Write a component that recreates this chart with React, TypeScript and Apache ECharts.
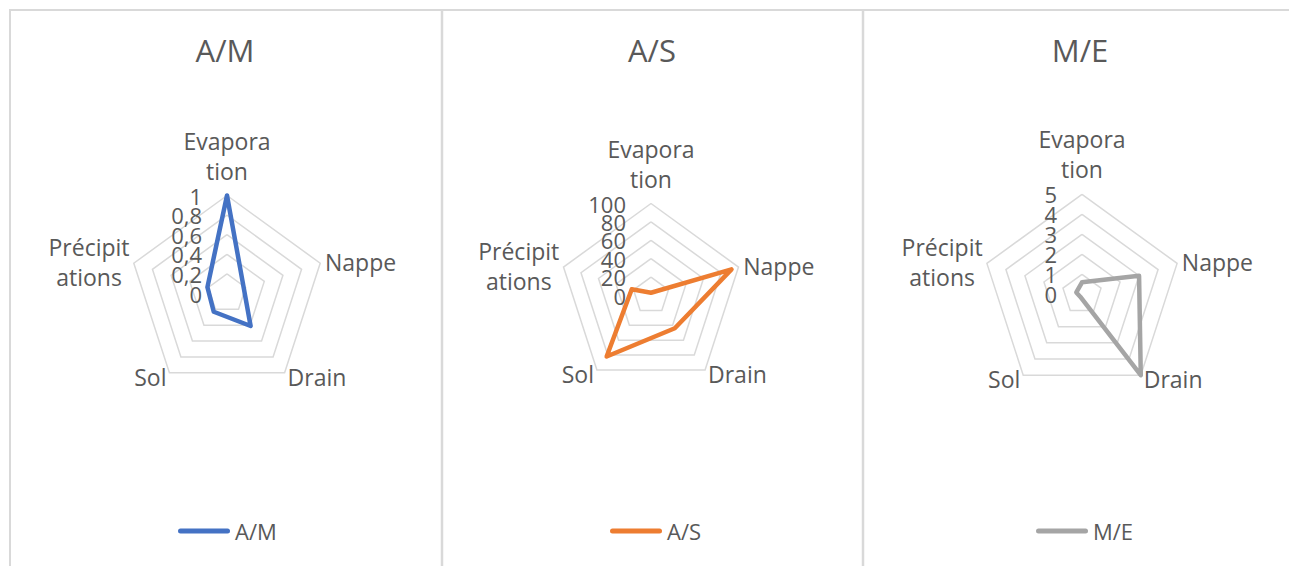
import React, { useEffect, useRef } from "react";
import * as echarts from "echarts";

// ---- data ----
const categories = ["Evaporation", "Nappe", "Drain", "Sol", "Précipitations"];
const wrappedLabels = ["Evapora\ntion", "Nappe", "Drain", "Sol", "Précipit\nations"];
const seriesNames = ["A/M", "A/S", "M/E"];
const valuesAM = [1, 0.18, 0.41, 0.23, 0.21];
const valuesAS = [3, 92, 44, 82, 22];
const valuesME = [0.6, 3, 5, 0.15, 0.3];
const axisMax = [1, 100, 5];
const ticksAM = ["0", "0,2", "0,4", "0,6", "0,8", "1"];
const ticksAS = ["0", "20", "40", "60", "80", "100"];
const ticksME = ["0", "1", "2", "3", "4", "5"];
const seriesValues = [valuesAM, valuesAS, valuesME];
const tickLabels = [ticksAM, ticksAS, ticksME];
const colors = ["#4472C4", "#ED7D31", "#A5A5A5"];

// ---- layout ----
const FONT = "'Open Sans', 'Noto Sans', sans-serif";
const TEXT = "#595959";
const SPLIT = 5;
const panels = [
  { cx: 227, cy: 293.5, r: 98, titleX: 220, legendLeft: 173 },
  { cx: 651, cy: 295.5, r: 92, titleX: 647, legendLeft: 605 },
  { cx: 1082, cy: 294.3, r: 100, titleX: 1075, legendLeft: 1031 },
];
// ECharts places indicators counter-clockwise; Excel goes clockwise.
const order = categories.map((_, i) => (i === 0 ? 0 : categories.length - i));

const pill = "path://M2.5,0 L49.5,0 A2.5,2.5 0 0 1 49.5,5 L2.5,5 A2.5,2.5 0 0 1 2.5,0 Z";

export default function App() {
  const ref = useRef<HTMLDivElement>(null);
  useEffect(() => {
    if (!ref.current) return;
    const chart = echarts.init(ref.current, null, { renderer: "svg" });

    // value-axis labels of the top (Evaporation) axis, left of the axis like Excel
    const tickTexts: any[] = [];
    panels.forEach((p, i) => {
      tickLabels[i].forEach((t, k) => {
        tickTexts.push({
          type: "text",
          x: p.cx - 25,
          y: p.cy - (p.r * k) / SPLIT,
          z: 10,
          silent: true,
          style: {
            text: t,
            align: "right",
            verticalAlign: "middle",
            fontSize: 22,
            fontFamily: FONT,
            fill: TEXT,
          },
        });
      });
    });

    const option: any = {
      animation: false,
      backgroundColor: "#ffffff",
      title: panels.map((p, i) => ({
        text: seriesNames[i],
        left: p.titleX,
        top: 29,
        textAlign: "center",
        textStyle: { fontSize: 31, fontWeight: "normal", color: TEXT, fontFamily: FONT },
      })),
      legend: panels.map((p, i) => ({
        data: [seriesNames[i]],
        left: p.legendLeft,
        top: 515,
        itemWidth: 52,
        itemHeight: 5,
        icon: pill,
        itemStyle: { borderWidth: 0 },
        textStyle: { color: TEXT, fontSize: 22, fontFamily: FONT },
        selectedMode: false,
      })),
      radar: panels.map((p, i) => ({
        center: [p.cx, p.cy],
        radius: p.r,
        startAngle: 90,
        splitNumber: SPLIT,
        shape: "polygon",
        indicator: order.map((k, j) => ({
          name: categories[k],
          min: 0,
          max: axisMax[i],
          nameGap: j === 0 ? 10 : 5,
        })),
        axisNameGap: 7,
        axisName: {
          color: TEXT,
          fontSize: 23,
          fontFamily: FONT,
          lineHeight: 30,
          formatter: (name: string) => {
            const lbl = wrappedLabels[categories.indexOf(name)];
            if (lbl.indexOf("\n") < 0) return lbl;
            return lbl
              .split("\n")
              .map((l) => `{c|${l}}`)
              .join("\n");
          },
          rich: {
            c: {
              width: 80,
              align: "center",
              fontSize: 23,
              lineHeight: 30,
              color: TEXT,
              fontFamily: FONT,
            },
          },
        },
        splitLine: { lineStyle: { color: "#D9D9D9", width: 1.5 } },
        splitArea: { show: false },
        axisLine: { show: false },
        axisTick: { show: false },
        axisLabel: { show: false },
      })),
      series: seriesNames.map((name, i) => ({
        type: "radar",
        name,
        radarIndex: i,
        symbol: "none",
        color: colors[i],
        lineStyle: { width: 4.5, color: colors[i], cap: "round", join: "round" },
        data: [{ name, value: order.map((k) => seriesValues[i][k]) }],
      })),
      graphic: [
        { type: "line", shape: { x1: 9, y1: 10, x2: 1289, y2: 10 }, style: { stroke: "#D9D9D9", lineWidth: 2 }, silent: true },
        { type: "line", shape: { x1: 10, y1: 9, x2: 10, y2: 566 }, style: { stroke: "#D9D9D9", lineWidth: 2 }, silent: true },
        { type: "line", shape: { x1: 442, y1: 9, x2: 442, y2: 566 }, style: { stroke: "#D9D9D9", lineWidth: 2.5 }, silent: true },
        { type: "line", shape: { x1: 863, y1: 9, x2: 863, y2: 566 }, style: { stroke: "#D9D9D9", lineWidth: 2.5 }, silent: true },
        ...tickTexts,
      ],
    };
    chart.setOption(option);
    return () => chart.dispose();
  }, []);
  return (
    <div
      ref={ref}
      style={{ position: "fixed", left: 0, top: 0, width: 1289, height: 566, background: "#fff" }}
    />
  );
}
